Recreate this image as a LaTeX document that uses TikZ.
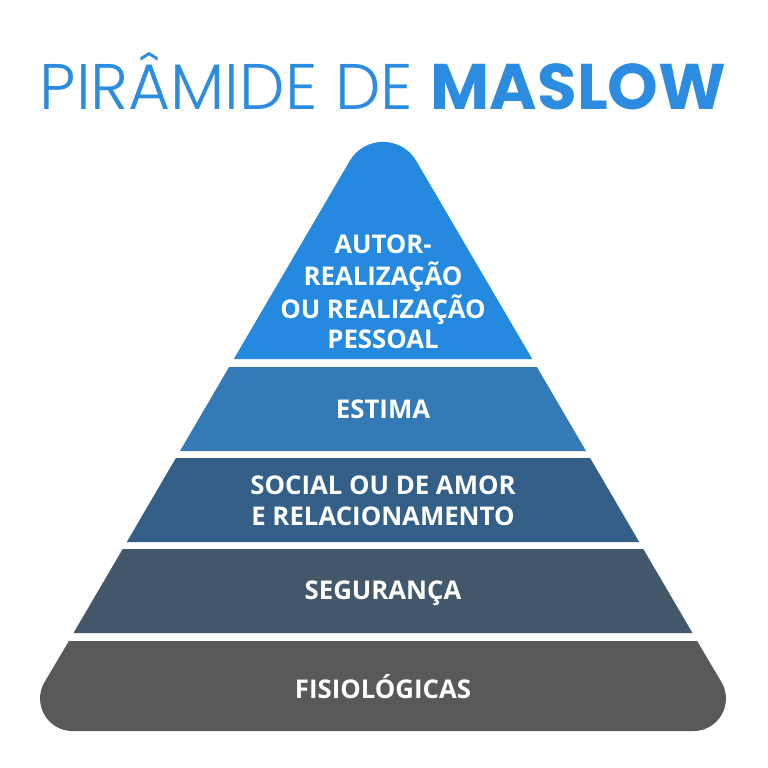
\documentclass[tikz,border=0pt]{standalone}
\usepackage{fontspec}
\setmainfont{Open Sans}[BoldFont={* Bold}]
\newfontfamily\poplight{Poppins}[UprightFont={* Light},BoldFont={* Bold}]
\newfontfamily\popbold{Poppins}[UprightFont={* Bold}]
\definecolor{ctitle}{HTML}{2B8CE0}
\definecolor{cone}{HTML}{2589DF}
\definecolor{ctwo}{HTML}{347AB6}
\definecolor{cthree}{HTML}{345F88}
\definecolor{cfour}{HTML}{44586B}
\definecolor{cfive}{HTML}{595959}
\tikzset{
  lbl/.style={anchor=base, text=white, inner sep=0pt, font=\fontsize{22}{26}\selectfont\bfseries},
  ttl/.style={anchor=base, text=ctitle, inner sep=0pt}
}
\begin{document}
\begin{tikzpicture}[x=0.03cm,y=-0.03cm]
\useasboundingbox[fill=white] (0,0) rectangle (768,768);
% title
\node[ttl] (title) at (383,110) {\fontsize{55}{60}\selectfont\poplight PIRÂMIDE DE \popbold MASLOW};
% layers
\fill[cone] (233.8,359) -- (349.7,161) .. controls (364.6,135.5) and (401.4,135.5) .. (416.3,161) -- (532.2,359) -- cycle;
\fill[ctwo] (229.1,367) -- (536.9,367) -- (586,451) -- (180,451) -- cycle;
\fill[cthree] (175.9,458) -- (590.1,458) -- (639.2,542) -- (126.8,542) -- cycle;
\fill[cfour] (122.7,549) -- (643.3,549) -- (692.5,633) -- (73.5,633) -- cycle;
\fill[cfive] (68.9,641) -- (697.1,641) -- (721.5,682.2) .. controls (734.1,703.8) and (718.5,731) .. (693.5,731)
  -- (72.5,731) .. controls (47.5,731) and (31.9,703.8) .. (44.5,682.2) -- cycle;
% labels
\node[lbl] (l1a) at (383,253) {AUTOR-};
\node[lbl] (l1b) at (383,285) {REALIZAÇÃO};
\node[lbl] (l1c) at (383,318) {OU REALIZAÇÃO};
\node[lbl] (l1d) at (383,348) {PESSOAL};
\node[lbl] (l2) at (383,418) {ESTIMA};
\node[lbl] (l3a) at (383,494.5) {SOCIAL OU DE AMOR};
\node[lbl] (l3b) at (383,525.5) {E RELACIONAMENTO};
\node[lbl] (l4) at (383,599.5) {SEGURANÇA};
\node[lbl] (l5) at (383,698.5) {FISIOLÓGICAS};
\end{tikzpicture}
\end{document}
